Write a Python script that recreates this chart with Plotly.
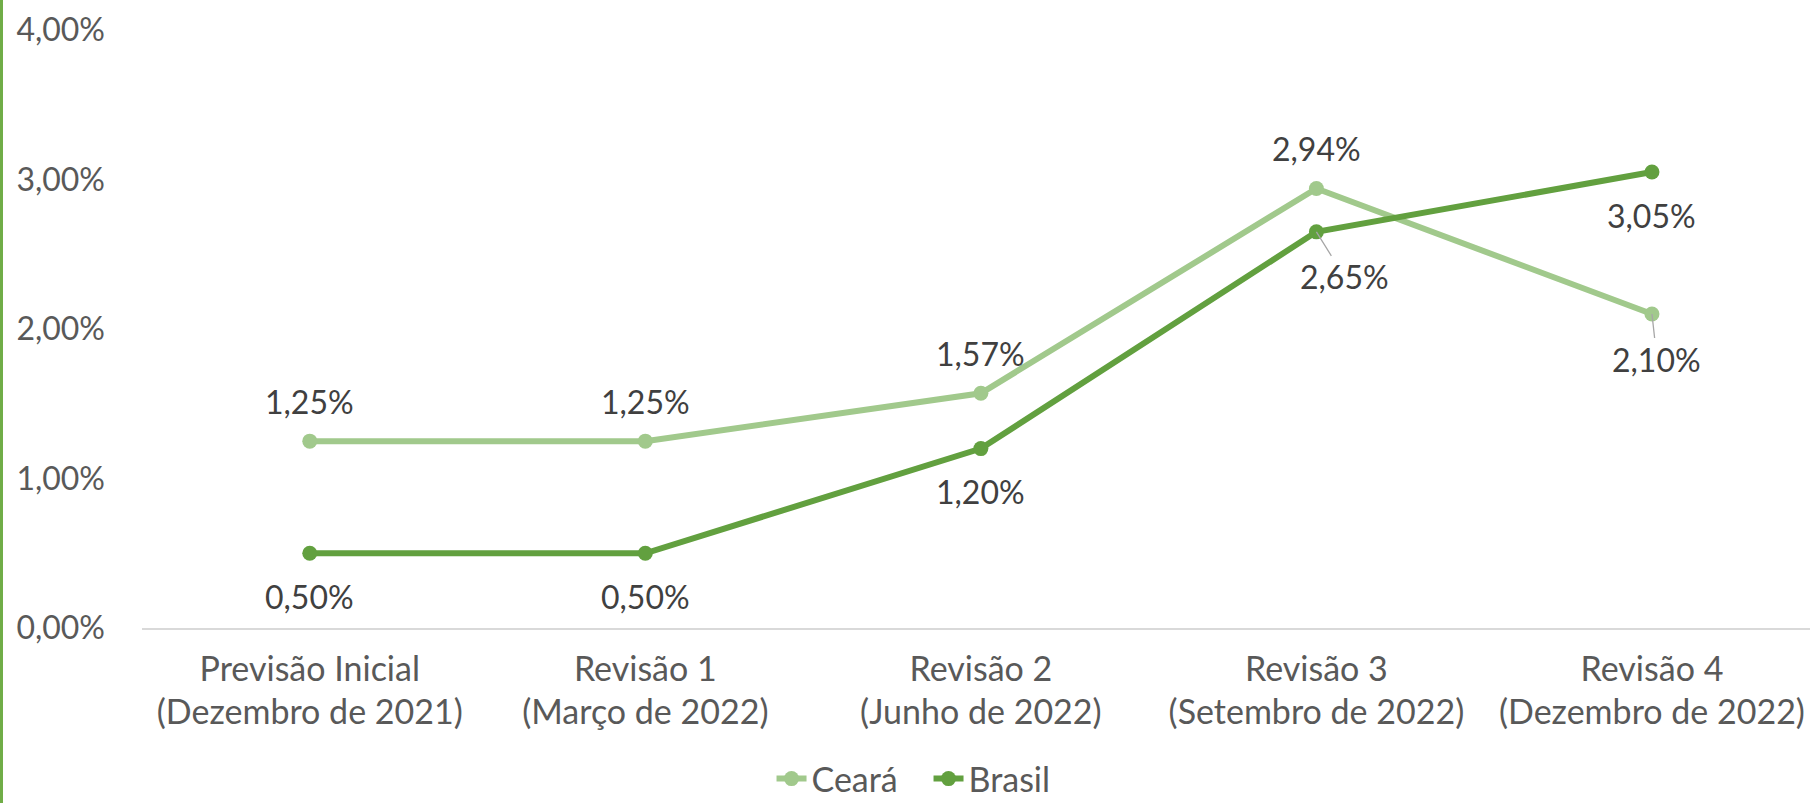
import plotly.graph_objects as go

cat_line1 = ["Previsão Inicial", "Revisão 1", "Revisão 2", "Revisão 3", "Revisão 4"]
cat_line2 = ["(Dezembro de 2021)", "(Março de 2022)", "(Junho de 2022)",
             "(Setembro de 2022)", "(Dezembro de 2022)"]
ceara = [1.25, 1.25, 1.57, 2.94, 2.10]
brasil = [0.50, 0.50, 1.20, 2.65, 3.05]
y_ticks = [0, 1, 2, 3, 4]

# label placement: above / below the point, or moved with a leader line
ceara_label_pos = ["above", "above", "above", "above", "leader"]
brasil_label_pos = ["below", "below", "below", "leader", "below"]
ceara_leader = {4: (5, 45)}
brasil_leader = {3: (28, 45)}

C_LIGHT = "#A1C98C"
C_DARK = "#62A03F"
FONT = "Lato"
FS_NUM = 32
FS_TXT = 34

W, H = 1810, 803
ML, MR, MT, MB = 142, 0, 30, 175

xs = list(range(len(cat_line1)))


def fmt(v):
    return f"{v:.2f}".replace(".", ",") + "%"


fig = go.Figure()
fig.add_trace(go.Scatter(x=xs, y=ceara, name="Ceará", mode="lines+markers",
                         line=dict(color=C_LIGHT, width=6),
                         marker=dict(color=C_LIGHT, size=15)))
fig.add_trace(go.Scatter(x=xs, y=brasil, name="Brasil", mode="lines+markers",
                         line=dict(color=C_DARK, width=6),
                         marker=dict(color=C_DARK, size=15)))
# invisible trace that carries the second line of the category labels
fig.add_trace(go.Scatter(x=xs, y=brasil, xaxis="x2", mode="markers",
                         marker=dict(opacity=0), showlegend=False, hoverinfo="skip"))

annotations = []
for series, pos, leaders in ((ceara, ceara_label_pos, ceara_leader),
                             (brasil, brasil_label_pos, brasil_leader)):
    for i, (v, p) in enumerate(zip(series, pos)):
        base = dict(x=i, y=v, xref="x", yref="y", text=fmt(v),
                    font=dict(family=FONT, size=FS_NUM, color="#404040"))
        if p == "leader":
            ax, ay = leaders[i]
            annotations.append(dict(base, showarrow=True, arrowhead=0, arrowwidth=1.3,
                                    arrowcolor="#A6A6A6", ax=ax, ay=ay, standoff=0))
        else:
            annotations.append(dict(base, showarrow=False, yanchor="middle",
                                    yshift=40 if p == "above" else -43))

plot_w = W - ML - MR
plot_h = H - MT - MB
xrange = [-0.5, 4.471]
tickfont_txt = dict(family=FONT, size=FS_TXT, color="#595959")

fig.update_layout(
    width=W, height=H,
    margin=dict(l=ML, r=MR, t=MT, b=MB, autoexpand=False),
    paper_bgcolor="white", plot_bgcolor="white",
    font=dict(family=FONT, size=FS_TXT, color="#595959"),
    xaxis=dict(tickmode="array", tickvals=xs, ticktext=cat_line1,
               range=xrange, showgrid=False, zeroline=False,
               showline=True, linecolor="#D9D9D9", linewidth=1.5,
               ticks="", ticklabelstandoff=10, tickfont=tickfont_txt),
    xaxis2=dict(tickmode="array", tickvals=xs, ticktext=cat_line2,
                range=xrange, overlaying="x", side="bottom", anchor="y",
                showgrid=False, zeroline=False, showline=False,
                ticks="", ticklabelstandoff=61, tickfont=tickfont_txt),
    yaxis=dict(range=[0, 4], tickmode="array", tickvals=y_ticks,
               ticktext=[fmt(v) for v in y_ticks],
               showgrid=False, zeroline=False, showline=False, ticks="",
               ticklabelstandoff=36,
               tickfont=dict(family=FONT, size=FS_NUM, color="#595959")),
    legend=dict(orientation="h", xref="container", yref="container",
                x=0.513, xanchor="center", y=1 - 779 / H, yanchor="middle",
                entrywidth=112, entrywidthmode="pixels",
                font=tickfont_txt, bgcolor="rgba(0,0,0,0)"),
    annotations=annotations,
    shapes=[dict(type="line", xref="paper", yref="paper",
                 x0=-(ML - 1.5) / plot_w, x1=-(ML - 1.5) / plot_w,
                 y0=-MB / plot_h, y1=1 + MT / plot_h,
                 line=dict(color="#70AD47", width=3))],
    showlegend=True,
)

fig.write_html("out.html", config={"displayModeBar": False},
               post_script="document.body.style.margin='0';document.body.style.padding='0';")
